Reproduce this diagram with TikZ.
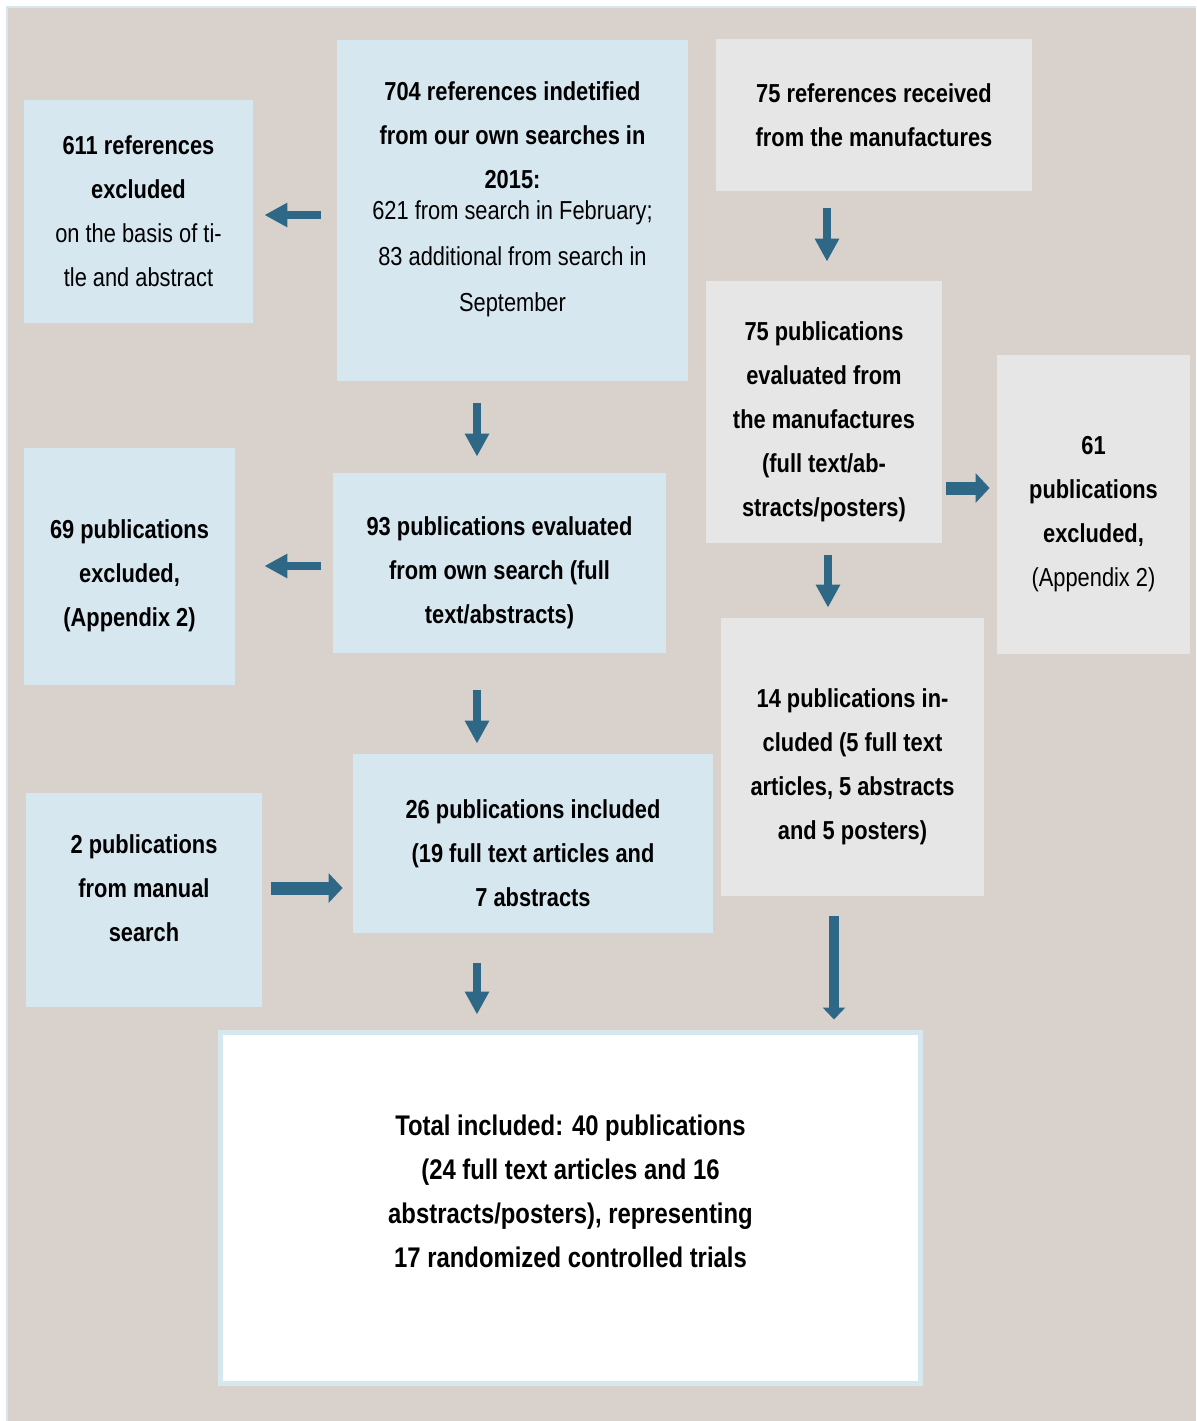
\documentclass[tikz,border=0pt]{standalone}
\usepackage{fontspec}
\setmainfont{Liberation Sans}[FakeStretch=0.84]
\usepackage{tikz}
\usetikzlibrary{arrows.meta,positioning,calc}
\definecolor{bgbeige}{HTML}{D9D1CB}
\definecolor{boxblue}{HTML}{D7E7F0}
\definecolor{boxgrey}{HTML}{E6E6E6}
\definecolor{arrowblue}{HTML}{2F6787}

\begin{document}
\begin{tikzpicture}[x=0.5pt, y=-0.5pt,
    every node/.style={font=\fontsize{13}{22}\selectfont, align=center, inner sep=0pt},
    bluebox/.style={fill=boxblue},
    greybox/.style={fill=boxgrey},
    arr/.style={draw=arrowblue, line width=4pt, -{Triangle[length=11.5pt,width=11.5pt]}},
    fatarr/.style={draw=arrowblue, line width=6.5pt, -{Triangle[length=7pt,width=14.5pt]}},
    longarr/.style={draw=arrowblue, line width=5.3pt, -{Triangle[length=6pt,width=11pt]}}]
    \useasboundingbox (0,0) rectangle (1196,1421);
    % --- background ---
    \fill[bgbeige] (6,6) rectangle (1196,1421);
    \draw[boxblue, line width=1pt] (7,1421) -- (7,7) -- (1196,7);

    % --- top row ---
    \node[bluebox, minimum width=114.5pt, minimum height=111.5pt] (ref611) at (138.5,211.5)
        {\textbf{611 references}\\ \textbf{excluded}\\ on the basis of ti-\\ tle and abstract};
    \node[bluebox, minimum width=175.5pt, minimum height=170.5pt] (ref704) at (512.5,210.5)
        {\textbf{704 references indetified}\\ \textbf{from our own searches in}\\ \textbf{2015:}\\[-6.5pt]
         621 from search in February;\\[1pt] 83 additional from search in\\[1pt] September\\[-8.5pt]\mbox{}};
    \node[greybox, minimum width=158pt, minimum height=76pt] (ref75) at (874,115)
        {\textbf{75 references received}\\ \textbf{from the manufactures}};

    % --- middle row ---
    \node[greybox, minimum width=118pt, minimum height=131pt] (pub75) at (824,412)
        {\mbox{}\\[-3pt] \textbf{75 publications}\\ \textbf{evaluated from}\\ \textbf{the manufactures}\\ \textbf{(full text/ab-}\\ \textbf{stracts/posters)}};
    \node[greybox, minimum width=96.5pt, minimum height=149.5pt] (pub61) at (1093.5,504.5)
        {\mbox{}\\[-3pt] \textbf{61}\\ \textbf{publications}\\ \textbf{excluded,}\\ (Appendix 2)};
    \node[bluebox, minimum width=105.5pt, minimum height=118.5pt] (pub69) at (129.5,566.5)
        {\mbox{}\\[-3pt] \textbf{69 publications}\\ \textbf{excluded,}\\ \textbf{(Appendix 2)}};
    \node[bluebox, minimum width=166.5pt, minimum height=90pt] (pub93) at (499.5,563)
        {\mbox{}\\[-3pt] \textbf{93 publications evaluated}\\ \textbf{from own search (full}\\ \textbf{text/abstracts)}};
    \node[greybox, minimum width=131.5pt, minimum height=139pt] (pub14) at (852.5,757)
        {\mbox{}\\[-3pt] \textbf{14 publications in-}\\ \textbf{cluded (5 full text}\\ \textbf{articles, 5 abstracts}\\ \textbf{and 5 posters)}};

    % --- lower row ---
    \node[bluebox, minimum width=118pt, minimum height=107pt] (pub2) at (144,900)
        {\textbf{2 publications}\\ \textbf{from manual}\\ \textbf{search}\\[-10.5pt]\mbox{}};
    \node[bluebox, minimum width=180pt, minimum height=89.5pt] (pub26) at (533,843.5)
        {\mbox{}\\[-3pt] \textbf{26 publications included}\\ \textbf{(19 full text articles and}\\ \textbf{7 abstracts}};

    % --- total ---
    \node[draw=boxblue, fill=white, line width=2.5pt, minimum width=350pt, minimum height=175.5pt,
          font=\fontsize{14.2}{22}\selectfont] (total) at (570.5,1208)
        {\textbf{Total included: 40 publications}\\ \textbf{(24 full text articles and 16}\\
         \textbf{abstracts/posters), representing}\\ \textbf{17 randomized controlled trials}\\[-5pt]\mbox{}};

    % --- arrows ---
    \draw[arr, shorten <=8pt, shorten >=5.5pt] (ref704.west |- 0,215) -- (ref611.east |- 0,215);
    \draw[arr, shorten <=8.5pt, shorten >=9.5pt] (827,0 |- ref75.south) -- (827,0 |- pub75.north);
    \draw[arr, shorten <=11pt, shorten >=8pt] (477,0 |- ref704.south) -- (477,0 |- pub93.north);
    \draw[fatarr, shorten <=2pt, shorten >=3.5pt] (pub75.east |- 0,488) -- (pub61.west |- 0,488);
    \draw[arr, shorten <=6pt, shorten >=14.5pt] (pub93.west |- 0,566) -- (pub69.east |- 0,566);
    \draw[arr, shorten <=6pt, shorten >=5pt] (828,0 |- pub75.south) -- (828,0 |- pub14.north);
    \draw[arr, shorten <=18.5pt, shorten >=5pt] (477,0 |- pub93.south) -- (477,0 |- pub26.north);
    \draw[fatarr, shorten <=4.5pt, shorten >=5pt] (pub2.east |- 0,888) -- (pub26.west |- 0,888);
    \draw[arr, shorten <=15pt, shorten >=7.75pt] (477,0 |- pub26.south) -- (477,0 |- total.north);
    \draw[longarr, shorten <=10pt, shorten >=5.25pt] (834,0 |- pub14.south) -- (834,0 |- total.north);
\end{tikzpicture}
\end{document}
